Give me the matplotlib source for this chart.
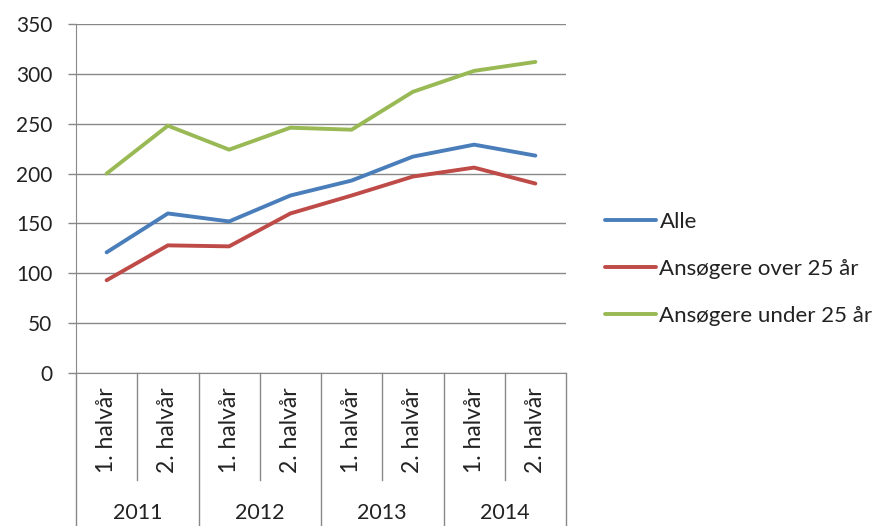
import matplotlib
matplotlib.use("Agg")
import matplotlib.pyplot as plt

halves = ["1. halvår", "2. halvår"] * 4
years = ["2011", "2012", "2013", "2014"]
series_names = ["Alle", "Ansøgere over 25 år", "Ansøgere under 25 år"]
alle = [121, 160, 152, 178, 193, 217, 229, 218]
over25 = [93, 128, 127, 160, 178, 197, 206, 190]
under25 = [200, 248, 224, 246, 244, 282, 303, 312]
colors = ["#4A7EBB", "#BE4B48", "#98B954"]
yticks = [0, 50, 100, 150, 200, 250, 300, 350]

plt.rcParams['font.family'] = ['Lato', 'DejaVu Sans']
W, H = 881, 526
fig = plt.figure(figsize=(W / 100, H / 100), dpi=100)
ax = fig.add_axes([76 / W, 1 - 373 / H, (566 - 76) / W, (373 - 24) / H])

x = list(range(len(halves)))
for vals, name, c in zip([alle, over25, under25], series_names, colors):
    ax.plot(x, vals, color=c, lw=2.8, label=name, solid_capstyle='round')

ax.set_xlim(-0.5, len(halves) - 0.5)
ax.set_ylim(0, 350)
ax.set_yticks(yticks)
ax.set_yticklabels([str(v) for v in yticks], fontsize=15, color="#222222")
ax.yaxis.grid(True, color="#888888", lw=1)
ax.set_axisbelow(True)
ax.tick_params(axis='y', length=6, width=1, color="#888888", pad=11)
ax.set_xticks([])
for s in ["top", "right"]:
    ax.spines[s].set_visible(False)
ax.spines["left"].set_color("#888888")
ax.spines["bottom"].set_color("#888888")

tr = ax.get_xaxis_transform()
ah = 373 - 24
y_half = (373 - 480) / ah
y_bot = (373 - 528) / ah
# vertical separators
for b in [0.5, 2.5, 4.5, 6.5]:
    ax.plot([b, b], [0, y_half], transform=tr, color="#888888", lw=1, clip_on=False)
for b in [-0.5, 1.5, 3.5, 5.5, 7.5]:
    ax.plot([b, b], [0, y_bot], transform=tr, color="#888888", lw=1, clip_on=False)
# half labels
for i, lab in enumerate(halves):
    ax.text(i, (373 - 430) / ah, lab, transform=tr, rotation=90, ha='center', va='center',
            fontsize=16.5, color="#222222")
for j, yr in enumerate(years):
    ax.text(2 * j + 0.5, (373 - 513) / ah, yr, transform=tr, ha='center', va='center',
            fontsize=15.5, color="#222222")

leg = fig.legend(loc='center left', bbox_to_anchor=(585 / W, 1 - 269 / H), frameon=False,
                 fontsize=16, handlelength=2.3, handletextpad=0.15, labelspacing=1.22)
for t in leg.get_texts():
    t.set_color("#222222")

fig.savefig("out.png", dpi=100)
